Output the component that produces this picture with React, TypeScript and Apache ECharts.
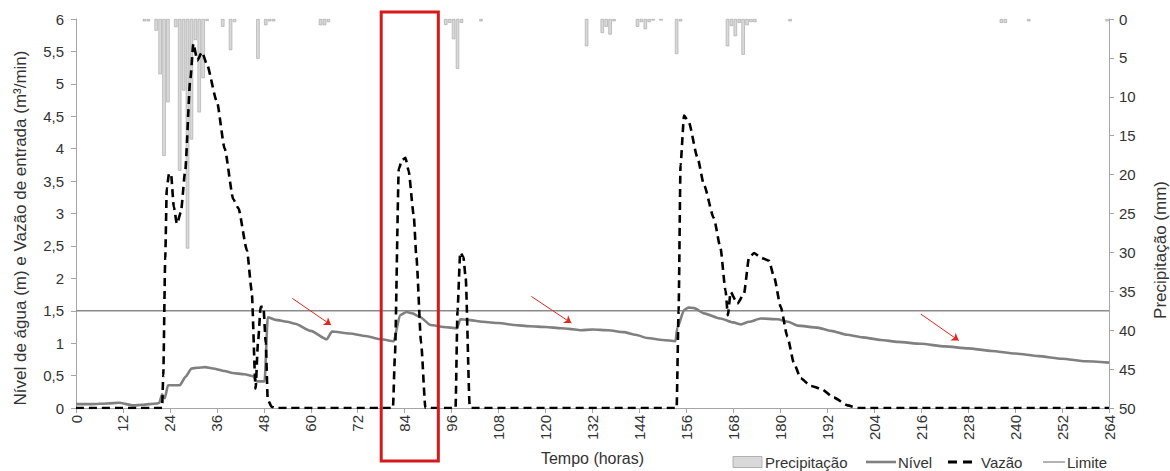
import React, { useEffect, useRef } from "react";
import * as echarts from "echarts";

// ---------- data ----------
// Precipitation: start hour of each hourly bar and depth (mm)
const rainHours = [17, 18, 20, 21, 22, 23, 25, 26, 27, 28, 29, 30, 31, 32, 33, 37, 39, 40, 46, 48, 49, 50, 62, 63, 64,
  94, 95, 96, 97, 98, 103, 130, 134, 135, 136, 137, 143, 144, 145, 146, 147, 149, 153, 154,
  166, 167, 168, 169, 170, 171, 172, 173, 182, 236, 237, 243, 263];
const rainMm = [0.3, 0.3, 1.5, 7.1, 17.6, 10.7, 1.05, 19.5, 9.2, 29.5, 15.5, 2.7, 12.0, 7.6, 0.25, 1.0, 4.0, 0.4, 5.1, 0.8, 0.3, 0.3, 0.8, 0.8, 0.4,
  0.76, 0.5, 2.6, 6.4, 0.5, 0.3, 3.5, 1.8, 1.0, 2.0, 0.3, 1.0, 0.4, 1.3, 0.4, 0.2, 0.2, 4.5, 0.3,
  3.5, 0.9, 2.2, 0.5, 4.6, 0.8, 0.4, 0.4, 0.3, 0.5, 0.5, 0.3, 0.3];

// Nível (m)
const nivelT = [0, 4, 8, 11, 14.7, 17, 20.6, 21.3, 22, 22.7, 23.5, 26.5, 28, 29.5, 31, 33, 35, 38, 40, 43, 45.4, 46.2, 48.2, 49, 51, 54, 56, 60, 64.1, 65.4,
  70, 74, 78, 81.2, 82.8, 84.5, 86, 88, 90.6, 94, 97.4, 98.2, 100, 104, 108, 112, 116, 120, 124, 126, 129, 132, 136, 140, 143, 146, 150, 153.2,
  153.7, 155.4, 156.5, 158, 160.5, 164.7, 168, 170, 172, 175, 179.3, 182, 184.4, 189.5, 193, 197, 201, 205.7, 210, 216, 222, 228, 234, 240, 246, 252, 258, 264];
const nivelV = [0.06, 0.06, 0.07, 0.08, 0.04, 0.05, 0.07, 0.08, 0.21, 0.15, 0.35, 0.35, 0.48, 0.61, 0.62, 0.63, 0.61, 0.57, 0.54, 0.52, 0.49, 0.41, 0.41, 1.40, 1.36, 1.33, 1.30, 1.19, 1.06, 1.18,
  1.15, 1.11, 1.06, 1.03, 1.43, 1.48, 1.46, 1.40, 1.28, 1.25, 1.23, 1.37, 1.36, 1.33, 1.31, 1.28, 1.26, 1.25, 1.23, 1.22, 1.20, 1.21, 1.20, 1.17, 1.13, 1.08, 1.05, 1.03,
  1.24, 1.51, 1.55, 1.54, 1.46, 1.38, 1.32, 1.29, 1.33, 1.38, 1.37, 1.33, 1.27, 1.24, 1.19, 1.13, 1.09, 1.05, 1.02, 0.99, 0.95, 0.92, 0.88, 0.84, 0.80, 0.76, 0.72, 0.70];

// Vazão de entrada (m³/min)
const vazaoT = [0, 22, 22.3, 22.8, 23.2, 23.8, 24.3, 25, 25.8, 26.8, 27.9, 29.2, 30, 31, 32.2, 33.4, 36, 38, 40.2, 41.5, 43.7, 44.9, 45.9, 46.5, 47.2, 47.9, 48.5, 49, 50, 51,
  81, 81.5, 82.5, 83.3, 84.2, 85, 86.3, 87, 88.2, 89.3, 97, 97.5, 98.2, 99, 99.6, 100.6, 101,
  153.5, 154, 154.5, 155.4, 156.6, 158.8, 160.5, 163, 164.7, 166, 166.6, 167.3, 169, 170.7, 172, 173.3, 175, 177.1, 178.4, 180.1, 181.8, 183.5, 185.2, 187.8, 190.3, 193.7, 197.2, 199.7, 264];
const vazaoV = [0, 0, 0.5, 2.3, 3.39, 3.62, 3.6, 3.1, 2.84, 3.02, 3.65, 5.06, 5.62, 5.36, 5.49, 5.31, 4.73, 4.0, 3.22, 3.08, 2.43, 1.81, 0.3, 1.0, 1.56, 1.56, 1.0, 0.13, 0.02, 0,
  0, 0.8, 3.69, 3.82, 3.86, 3.66, 2.98, 2.32, 1.0, 0, 0, 1.5, 2.4, 2.33, 2.0, 0.05, 0,
  0, 1.5, 3.75, 4.51, 4.41, 3.87, 3.44, 2.93, 2.47, 1.81, 1.43, 1.79, 1.61, 1.76, 2.32, 2.39, 2.32, 2.27, 2.02, 1.56, 1.10, 0.69, 0.46, 0.34, 0.30, 0.16, 0.04, 0, 0];

const limiteValue = 1.5;
const timeRange = [0, 264];

// red annotation arrows (start hour, start value, end hour, end value)
const arrowStartT = [55.3, 116.4, 215.9];
const arrowStartV = [1.69, 1.72, 1.45];
const arrowEndT = [65.2, 126.6, 225.6];
const arrowEndV = [1.28, 1.31, 1.04];

// highlighted interval (hours)
const boxT = [78, 92.6];

const legendNames = ["Precipitação", "Nível", "Vazão", "Limite"];
const leftTitle = "Nível de água (m) e Vazão de entrada (m³/min)";
const rightTitle = "Precipitação (mm)";

const FONT = "'Liberation Sans', Arial, Helvetica, sans-serif";
const TXT = "#333333";
const AX = "#a6a6a6";
const RAIN_FILL = "#d9d9d9";
const RAIN_EDGE = "#a3a3a3";
const NIVEL_C = "#808080";
const LIM_C = "#8a8a8a";

export default function App() {
  const ref = useRef<HTMLDivElement>(null);

  useEffect(() => {
    if (!ref.current) return;
    const chart = echarts.init(ref.current, undefined, { renderer: "svg" });

    const axisCommon = {
      axisLine: { show: true, lineStyle: { color: AX, width: 1 } },
      axisTick: { show: true, length: 5, lineStyle: { color: AX } },
      splitLine: { show: false },
    };

    const option: any = {
      animation: false,
      backgroundColor: "#ffffff",
      textStyle: { fontFamily: FONT },
      grid: { left: 76, right: 61, top: 19, bottom: 59, containLabel: false },
      xAxis: {
        type: "value",
        min: timeRange[0],
        max: timeRange[1],
        interval: 12,
        ...axisCommon,
        axisLabel: { rotate: 90, fontSize: 15, color: TXT, margin: 7, fontFamily: FONT },
        name: "Tempo (horas)",
        nameLocation: "middle",
        nameGap: 42,
        nameTextStyle: { fontSize: 16, color: TXT, fontFamily: FONT },
      },
      yAxis: [
        {
          type: "value",
          min: 0,
          max: 6,
          interval: 0.5,
          position: "left",
          ...axisCommon,
          axisLabel: {
            fontSize: 15,
            color: TXT,
            margin: 12,
            fontFamily: FONT,
            formatter: (v: number) => String(v).replace(".", ","),
          },
        },
        {
          type: "value",
          min: 0,
          max: 50,
          interval: 5,
          inverse: true,
          position: "right",
          ...axisCommon,
          axisLabel: { fontSize: 15, color: TXT, margin: 10, fontFamily: FONT },
        },
      ],
      series: [
        {
          name: legendNames[0],
          type: "bar",
          xAxisIndex: 0,
          yAxisIndex: 1,
          barWidth: 3.4,
          itemStyle: { color: RAIN_FILL, borderColor: RAIN_EDGE, borderWidth: 0.6 },
          data: rainHours.map((h, i) => [h + 0.5, rainMm[i]]),
          z: 1,
        },
        {
          name: legendNames[3],
          type: "line",
          yAxisIndex: 0,
          symbol: "none",
          lineStyle: { color: LIM_C, width: 1.3 },
          itemStyle: { color: LIM_C },
          data: [
            [timeRange[0], limiteValue],
            [timeRange[1], limiteValue],
          ],
          markLine: {
            silent: true,
            symbol: ["none", "arrow"],
            symbolSize: 7,
            lineStyle: { color: "#e0281e", width: 1, type: "solid" },
            label: { show: false },
            data: arrowStartT.map((t, i) => [
              { coord: [t, arrowStartV[i]] },
              { coord: [arrowEndT[i], arrowEndV[i]] },
            ]),
          },
          z: 2,
        },
        {
          name: legendNames[1],
          type: "line",
          yAxisIndex: 0,
          symbol: "none",
          smooth: 0.2,
          smoothMonotone: "x",
          lineStyle: { color: NIVEL_C, width: 2.6 },
          itemStyle: { color: NIVEL_C },
          data: nivelT.map((t, i) => [t, nivelV[i]]),
          z: 3,
        },
        {
          name: legendNames[2],
          type: "line",
          yAxisIndex: 0,
          symbol: "none",
          smooth: 0.2,
          smoothMonotone: "x",
          lineStyle: { color: "#000000", width: 2.6, type: [8, 5] },
          itemStyle: { color: "#000000" },
          data: vazaoT.map((t, i) => [t, vazaoV[i]]),
          z: 4,
        },
      ],
    };

    chart.setOption(option);

    const x1 = chart.convertToPixel({ xAxisIndex: 0 }, boxT[0]) as number;
    const x2 = chart.convertToPixel({ xAxisIndex: 0 }, boxT[1]) as number;
    const yTop = (chart.convertToPixel({ yAxisIndex: 0 }, 6) as number) - 7;
    const yBot = (chart.convertToPixel({ yAxisIndex: 0 }, 0) as number) + 53;

    const legY = 462;
    const legText = (text: string, x: number) => ({
      type: "text",
      x,
      y: legY,
      silent: true,
      style: { text, fill: TXT, font: `15px ${FONT}`, textAlign: "left", textVerticalAlign: "middle" },
    });
    const legLine = (x0: number, x1_: number, stroke: string, lineWidth: number, lineDash?: number[]) => ({
      type: "line",
      silent: true,
      shape: { x1: x0, y1: legY, x2: x1_, y2: legY },
      style: { stroke, lineWidth, lineDash: lineDash || null },
    });

    chart.setOption({
      graphic: [
        {
          type: "rect",
          z: 100,
          silent: true,
          shape: { x: x1, y: yTop, width: x2 - x1, height: yBot - yTop },
          style: { fill: "none", stroke: "#d7191c", lineWidth: 3 },
        },
        // y axis titles
        {
          type: "text",
          x: 20,
          y: 228,
          rotation: Math.PI / 2,
          silent: true,
          style: { text: leftTitle, fill: TXT, font: `17px ${FONT}`, textAlign: "center", textVerticalAlign: "middle" },
        },
        {
          type: "text",
          x: 1160,
          y: 250,
          rotation: Math.PI / 2,
          silent: true,
          style: { text: rightTitle, fill: TXT, font: `17px ${FONT}`, textAlign: "center", textVerticalAlign: "middle" },
        },
        // legend
        {
          type: "rect",
          silent: true,
          shape: { x: 733, y: legY - 5.5, width: 29, height: 11 },
          style: { fill: RAIN_FILL, stroke: RAIN_EDGE, lineWidth: 0.8 },
        },
        legText(legendNames[0], 765),
        legLine(866, 896, NIVEL_C, 2.6),
        legText(legendNames[1], 898),
        legLine(948, 978, "#000000", 2.8, [9, 6]),
        legText(legendNames[2], 981),
        legLine(1043, 1065, LIM_C, 1.3),
        legText(legendNames[3], 1067),
      ],
    });

    return () => chart.dispose();
  }, []);

  return (
    <div
      ref={ref}
      style={{ position: "fixed", left: 0, top: 0, width: 1170, height: 471, background: "#fff" }}
    />
  );
}
